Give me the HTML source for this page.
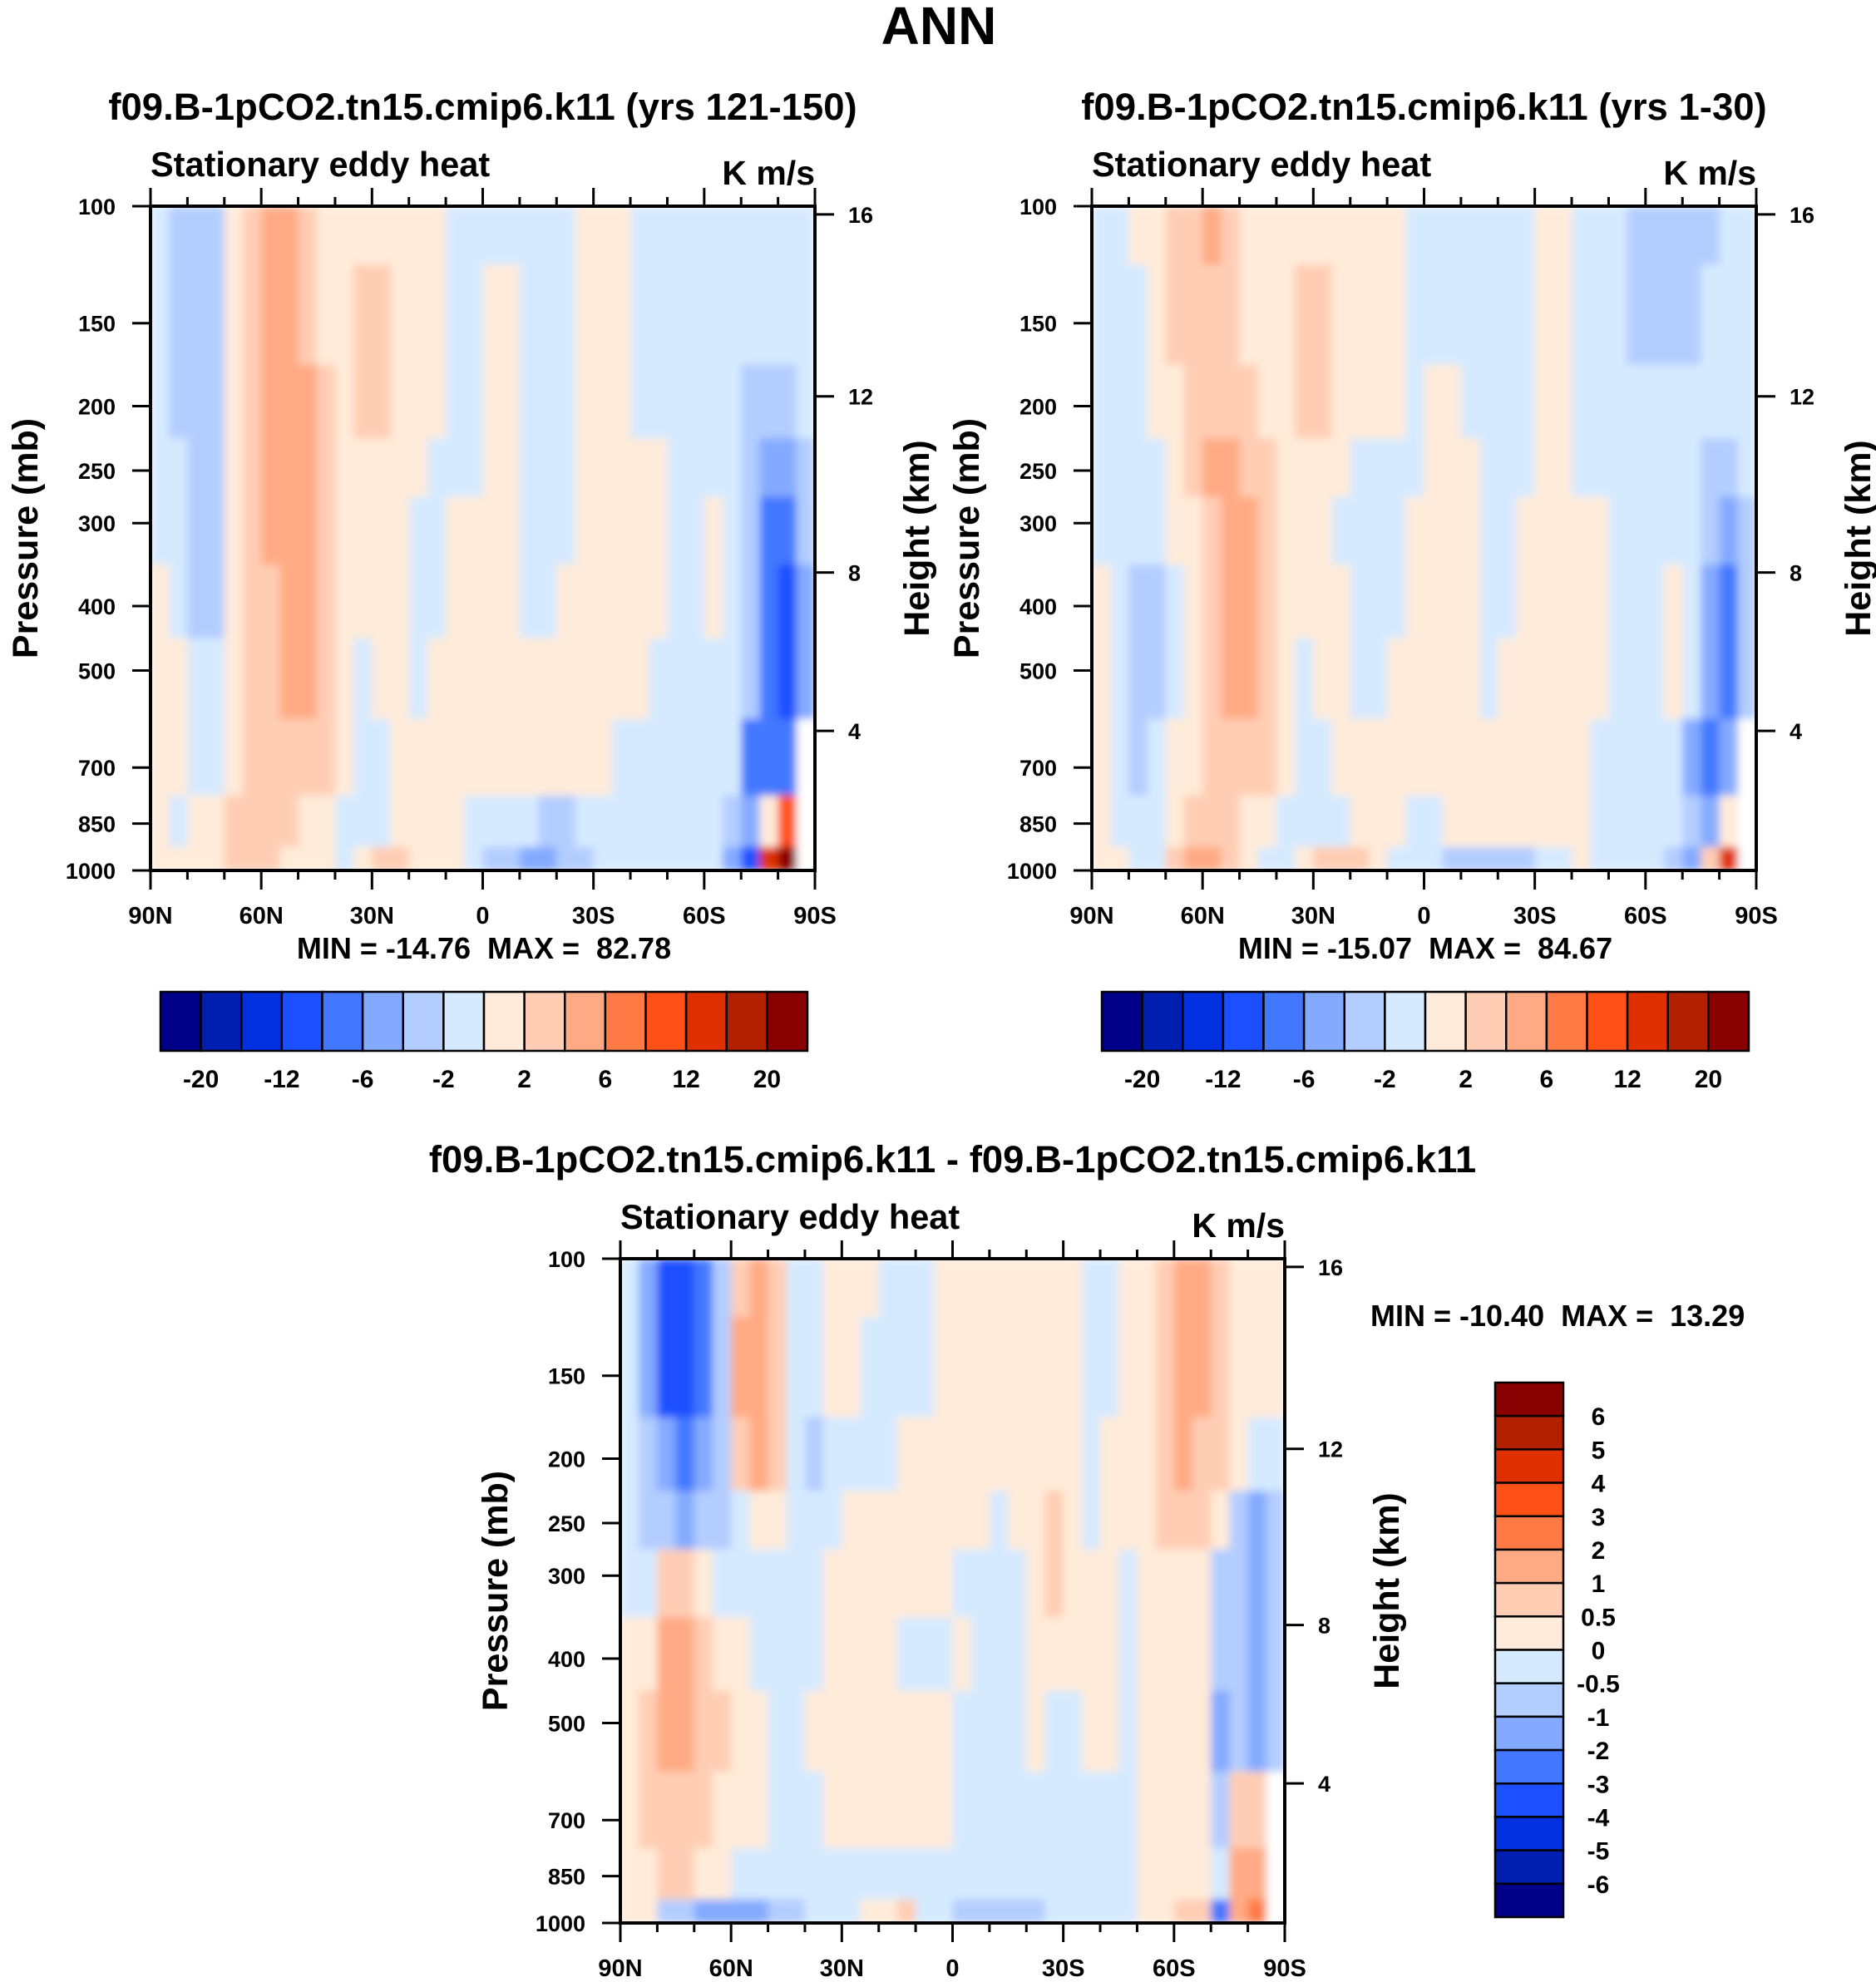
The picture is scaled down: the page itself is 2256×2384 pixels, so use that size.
<!DOCTYPE html>
<html><head><meta charset="utf-8"><title>ANN Stationary eddy heat</title>
<style>
html,body{margin:0;padding:0;background:#fff;}
svg{display:block;font-family:"Liberation Sans",Arial,sans-serif;font-weight:bold;}
text{white-space:pre;}
</style></head>
<body>
<svg id="fig" xmlns="http://www.w3.org/2000/svg" width="2256" height="2384" viewBox="0 0 2256 2384">
<defs>
<filter id="soft" x="0" y="0" width="1" height="1"><feGaussianBlur stdDeviation="5" edgeMode="duplicate"/></filter>
</defs>
<rect x="0" y="0" width="2256" height="2384" fill="#fff"/>
<text x="1129" y="53" font-size="64" text-anchor="middle">ANN</text>
</svg>
<script>
// ---------- DATA ----------
const latTickLabels = ["90N","60N","30N","0","30S","60S","90S"];
const pressureLevels = [100,150,200,250,300,400,500,700,850,1000];
const pressureTickLabels = ["100","150","200","250","300","400","500","700","850","1000"];
const heightTicks = [4,8,12,16];
const levelsTop = [-20,-16,-12,-8,-6,-4,-2,0,2,4,6,8,12,16,20];
const levelLabelsTop = ["-20","-12","-6","-2","2","6","12","20"];
const levelsDiff = [-6,-5,-4,-3,-2,-1,-0.5,0,0.5,1,2,3,4,5,6];
const levelLabelsDiff = ["-6","-5","-4","-3","-2","-1","-0.5","0","0.5","1","2","3","4","5","6"];
const colors = ["#000088","#001fb0","#0030e0","#1c4fff","#4278ff","#84aaff","#b3cdff","#d6eaff","#ffebd9","#ffcdb4","#ffaa84","#ff7a45","#ff5018","#e03000","#b22000","#880000"];
// columns: 5-degree bands from 90N to 90S; each column is a profile over pressureLevels
const fieldA = [
[-1,-1,-1,-1,-1,1,1,1,1,1],[-3,-3,-3,-1,-1,-1,1,1,-1,1],[-3,-3,-3,-3,-3,-3,-1,-1,1,1],[-3,-3,-3,-3,-3,-3,-1,-1,1,1],
[1,1,1,1,1,1,1,1,3,3],[3,3,3,3,3,3,3,3,3,3],[5,5,5,5,5,3,3,3,3,3],[5,5,5,5,5,5,5,3,3,1],
[3,3,5,5,5,5,5,3,1,1],[1,1,3,3,3,3,3,3,1,1],[1,1,1,1,1,1,1,1,-1,-1],[1,3,3,1,1,1,-1,-1,-1,1],
[1,3,3,1,1,1,1,-1,-1,3],[1,1,1,1,1,1,1,1,1,3],[1,1,1,1,-1,-1,-1,1,1,1],[1,1,1,-1,-1,-1,1,1,1,1],
[-1,-1,-1,-1,1,1,1,1,1,1],[-1,-1,-1,-1,1,1,1,1,-1,-1],[-1,1,1,1,1,1,1,1,-1,-3],[-1,1,1,1,1,1,1,1,-1,-3],
[-1,-1,-1,-1,-1,-1,1,1,-1,-5],[-1,-1,-1,-1,-1,-1,1,1,-3,-5],[-1,-1,-1,-1,-1,1,1,1,-3,-3],[1,1,1,1,1,1,1,1,-1,-3],
[1,1,1,1,1,1,1,1,-1,-1],[1,1,1,1,1,1,1,-1,-1,-1],[-1,-1,-1,1,1,1,1,-1,-1,-1],[-1,-1,-1,1,1,1,-1,-1,-1,-1],
[-1,-1,-1,-1,-1,-1,-1,-1,-1,-1],[-1,-1,-1,-1,-1,-1,-1,-1,-1,-1],[-1,-1,-1,-1,1,1,-1,-1,-1,-1],[-1,-1,-1,-1,-1,-1,-1,-1,-3,-5],
[-1,-1,-3,-3,-3,-3,-3,-7,-5,-10],[-1,-1,-3,-5,-7,-7,-7,-7,1,14],[-1,-1,-3,-5,-7,-10,-10,-7,10,30],[-1,-1,-1,-3,-3,-5,-5,null,null,null]
];
const fieldB = [
[-1,-1,-1,-1,-1,1,1,1,1,1],[-1,-1,-1,-1,-1,-1,-1,-1,-1,1],[1,-1,-1,-1,-1,-3,-3,-3,-1,-1],[1,1,1,-1,-1,-3,-3,-1,-1,-1],
[3,3,1,1,1,-1,-1,1,1,3],[3,3,3,3,1,1,1,1,3,5],[5,3,3,5,3,3,3,3,3,5],[3,3,3,5,5,5,5,3,3,3],
[1,1,3,3,5,5,5,3,1,1],[1,1,1,3,3,3,3,3,1,-1],[1,1,1,1,1,1,1,1,-1,-1],[1,3,3,1,1,1,-1,-1,-1,1],
[1,3,3,1,1,1,1,-1,-1,3],[1,1,1,1,-1,1,1,1,-1,3],[1,1,1,-1,-1,-1,-1,1,1,3],[1,1,1,-1,-1,-1,-1,1,1,1],
[1,1,1,-1,-1,-1,1,1,1,-1],[-1,-1,-1,-1,1,1,1,1,-1,-1],[-1,-1,1,1,1,1,1,1,-1,-1],[-1,-1,1,1,1,1,1,1,1,-3],
[-1,-1,-1,1,1,1,1,1,1,-3],[-1,-1,-1,-1,-1,-1,-1,1,1,-3],[-1,-1,-1,-1,-1,-1,1,1,1,-3],[-1,-1,-1,-1,1,1,1,1,1,-3],
[1,1,1,1,1,1,1,1,1,-1],[1,1,1,1,1,1,1,1,1,-1],[-1,-1,-1,-1,1,1,1,1,1,1],[-1,-1,-1,-1,1,1,1,-1,-1,-1],
[-1,-1,-1,-1,-1,-1,-1,-1,-1,-1],[-3,-3,-1,-1,-1,-1,-1,-1,-1,-1],[-3,-3,-1,-1,-1,-1,-1,-1,-1,-1],[-3,-3,-1,-1,-1,1,1,-1,-1,-3],
[-3,-3,-1,-1,-1,-1,-1,-5,-3,-5],[-3,-1,-1,-3,-3,-5,-5,-7,-5,3],[-1,-1,-1,-3,-5,-7,-7,-5,1,14],[-1,-1,-1,-1,-3,-3,-3,null,null,null]
];
const fieldDiff = [
[-0.25,-0.25,-0.25,-0.25,-0.25,0.25,0.25,0.25,0.25,0.25],[-1.5,-1.5,-0.75,-0.75,-0.25,0.25,0.75,0.75,0.25,0.25],
[-3.5,-3.5,-1.5,-0.75,0.75,1.5,1.5,0.75,0.75,-0.75],[-3.5,-3.5,-2.5,-1.5,0.75,1.5,1.5,0.75,0.75,-0.75],
[-2.5,-2.5,-1.5,-0.75,0.25,0.75,0.75,0.75,0.25,-1.5],[-0.75,-0.75,-0.75,-0.75,-0.25,0.25,0.75,0.25,0.25,-1.5],
[0.75,1.5,0.75,-0.25,-0.25,0.25,0.25,0.25,-0.25,-1.5],[1.5,1.5,1.5,0.25,-0.25,-0.25,0.25,0.25,-0.25,-1.5],
[0.75,0.75,0.75,0.25,-0.25,-0.25,-0.25,-0.25,-0.25,-0.75],[-0.25,-0.25,-0.25,-0.25,-0.25,-0.25,-0.25,-0.25,-0.25,-0.75],
[-0.25,-0.25,-0.75,-0.25,-0.25,-0.25,0.25,-0.25,-0.25,-0.25],[0.25,0.25,-0.25,-0.25,0.25,0.25,0.25,0.25,-0.25,-0.25],
[0.25,0.25,-0.25,0.25,0.25,0.25,0.25,0.25,-0.25,-0.25],[0.25,-0.25,-0.25,0.25,0.25,0.25,0.25,0.25,-0.25,0.25],
[-0.25,-0.25,-0.25,0.25,0.25,0.25,0.25,0.25,-0.25,0.25],[-0.25,-0.25,0.25,0.25,0.25,-0.25,0.25,0.25,-0.25,0.75],
[-0.25,-0.25,0.25,0.25,0.25,-0.25,0.25,0.25,-0.25,-0.25],[0.25,0.25,0.25,0.25,0.25,-0.25,0.25,0.25,-0.25,-0.25],
[0.25,0.25,0.25,0.25,-0.25,0.25,-0.25,-0.25,-0.25,-0.75],[0.25,0.25,0.25,0.25,-0.25,-0.25,-0.25,-0.25,-0.25,-0.75],
[0.25,0.25,0.25,-0.25,-0.25,-0.25,-0.25,-0.25,-0.25,-0.75],[0.25,0.25,0.25,0.25,-0.25,-0.25,-0.25,-0.25,-0.25,-0.75],
[0.25,0.25,0.25,0.25,0.25,0.25,0.25,-0.25,-0.25,-0.75],[0.25,0.25,0.25,0.75,0.75,0.25,-0.25,-0.25,-0.25,-0.25],
[0.25,0.25,0.25,0.25,0.25,0.25,-0.25,-0.25,-0.25,-0.25],[-0.25,-0.25,-0.25,-0.25,0.25,0.25,0.25,-0.25,-0.25,-0.25],
[-0.25,-0.25,0.25,0.25,0.25,0.25,0.25,-0.25,-0.25,-0.25],[0.25,0.25,0.25,0.25,-0.25,-0.25,-0.25,-0.25,-0.25,-0.25],
[0.25,0.25,0.25,0.25,0.25,0.25,0.25,0.25,0.25,0.25],[0.75,0.75,0.75,0.75,0.25,0.25,0.25,0.25,0.25,0.25],
[1.5,1.5,1.5,0.75,0.25,0.25,0.25,0.25,0.25,0.75],[1.5,1.5,0.75,0.75,0.25,0.25,0.25,0.25,0.25,0.75],
[0.75,0.75,0.75,0.25,-0.75,-0.75,-1.5,-0.75,-0.25,-2.5],[0.25,0.25,0.25,-0.75,-0.75,-0.75,-0.75,0.75,1.5,1.5],
[0.25,0.25,-0.25,-1.5,-1.5,-1.5,-1.5,0.75,1.5,2.5],[0.25,0.25,-0.25,-0.75,-0.75,-0.75,-0.75,null,null,null]
];
const titles = ["f09.B-1pCO2.tn15.cmip6.k11 (yrs 121-150)","f09.B-1pCO2.tn15.cmip6.k11 (yrs 1-30)","f09.B-1pCO2.tn15.cmip6.k11 - f09.B-1pCO2.tn15.cmip6.k11"];
const minMax = ["MIN = -14.76  MAX =  82.78","MIN = -15.07  MAX =  84.67","MIN = -10.40  MAX =  13.29"];

// ---------- RENDER ----------
const NS="http://www.w3.org/2000/svg";
const svg=document.getElementById('fig');
function mk(tag,attrs,parent){const e=document.createElementNS(NS,tag);for(const k in attrs)e.setAttribute(k,attrs[k]);(parent||svg).appendChild(e);return e;}
function txt(s,x,y,size,anchor,parent,rot){const t=mk('text',{x:x,y:y,'font-size':size,'text-anchor':anchor||'start'},parent);t.setAttributeNS('http://www.w3.org/XML/1998/namespace','xml:space','preserve');if(rot)t.setAttribute('transform','rotate('+rot+' '+x+' '+y+')');t.textContent=s;return t;}
function colorFor(v,levels){if(v===null)return '#ffffff';let i=0;while(i<levels.length&&v>=levels[i])i++;return colors[i];}
function zToP(zkm){const z=zkm*1000;if(z<=11000)return 1013.25*Math.pow(1-2.25577e-5*z,5.25588);return 226.32*Math.exp(-(z-11000)/6341.6);}

function panel(L,T,field,levels,idx){
  const W=799,H=799;
  const g=mk('g',{});
  
  
  const xs=lat=>L+(90-lat)/180*W;
  const ys=p=>T+Math.log10(p/100)*H;
  const nc=field.length, dl=180/nc;
  const cg=mk('g',{filter:'url(#soft)'},g);
  
  
  for(let c=0;c<nc;c++){
    const lat0=90-c*dl, lat1=lat0-dl;
    const x0=xs(lat0), x1=xs(lat1);
    for(let r=0;r<pressureLevels.length;r++){
      const pTop=r===0?100:Math.sqrt(pressureLevels[r-1]*pressureLevels[r]);
      const pBot=r===pressureLevels.length-1?1000:Math.sqrt(pressureLevels[r]*pressureLevels[r+1]);
      const y0=ys(pTop), y1=ys(pBot);
      const rc=mk('rect',{x:x0,y:y0,width:x1-x0+0.6,height:y1-y0+0.6,fill:colorFor(field[c][r],levels)},cg);
      
      
    }
  }
  const fr=mk('rect',{x:L,y:T,width:W,height:H,fill:'none',stroke:'#000','stroke-width':4},g);
  
  
  for(let lat=90;lat>=-90;lat-=10){
    const x=xs(lat), major=(lat%30===0);
    mk('line',{x1:x,y1:T,x2:x,y2:T-(major?22:11),stroke:'#000','stroke-width':3},g);
    mk('line',{x1:x,y1:T+H,x2:x,y2:T+H+(major?23:11),stroke:'#000','stroke-width':3},g);
  }
  latTickLabels.forEach((s,i)=>{const lab=txt(s,xs(90-30*i),T+H+64,29,'middle',g);
    
    });
  pressureLevels.forEach((p,i)=>{const y=ys(p);
    mk('line',{x1:L,y1:y,x2:L-22,y2:y,stroke:'#000','stroke-width':3},g);
    const lab=txt(pressureTickLabels[i],L-42,y+10,27,'end',g);
    
    });
  heightTicks.forEach(z=>{const y=ys(zToP(z));
    mk('line',{x1:L+W,y1:y,x2:L+W+23,y2:y,stroke:'#000','stroke-width':3},g);
    const lab=txt(String(z),L+W+40,y+10,27,'start',g);
    
    });
  const st=txt('Stationary eddy heat',L,T-36,41.5,'start',g);
  
  
  const un=txt('K m/s',L+W,T-26,41,'end',g);
  
  
  const yt=txt('Pressure (mb)',L-136,T+H/2,43,'middle',g,-90);
  
  
  const ht=txt('Height (km)',L+W+137,T+H/2,43,'middle',g,-90);
  
  
  const ti=txt(titles[idx],L+W/2,T-104,45.5,'middle',g);
  
  
  return g;
}
panel(181,248,fieldA,levelsTop,0);
panel(1313,248,fieldB,levelsTop,1);
panel(746,1514,fieldDiff,levelsDiff,2);

[[193,0],[1325,1]].forEach(([cx,idx])=>{
  const g=mk('g',{});
  
  
  const w=778/16;
  colors.forEach((c,i)=>{const r=mk('rect',{x:cx+i*w,y:1193,width:w,height:71,fill:c,stroke:'#000','stroke-width':2.5},g);
    
    });
  levelLabelsTop.forEach((s,i)=>{const t=txt(s,cx+(1+2*i)*w,1308,30,'middle',g);
    
    });
  const mm=txt(minMax[idx],cx+389,1153,36,'middle');
  
  
});
(function(){
  const g=mk('g',{});
  
  
  const top=1663,h=(2306-1663)/16;
  colors.slice().reverse().forEach((c,i)=>{const r=mk('rect',{x:1798,y:top+i*h,width:82,height:h,fill:c,stroke:'#000','stroke-width':2.5},g);
    
    });
  levelLabelsDiff.slice().reverse().forEach((s,i)=>{const t=txt(s,1922,top+(i+1)*h+11,30,'middle',g);
    
    });
  const mm=txt(minMax[2],1648,1595,36,'start');
  
  
})();
</script>
</body></html>
